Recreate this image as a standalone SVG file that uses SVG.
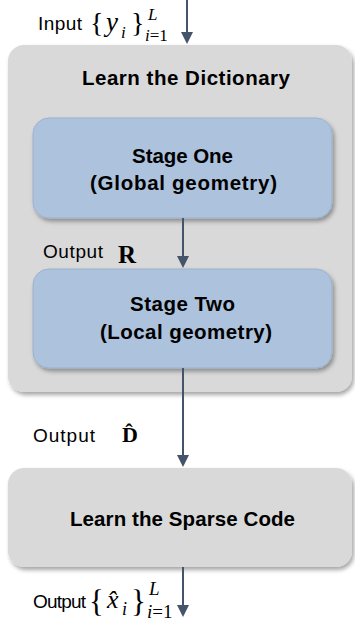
<svg xmlns="http://www.w3.org/2000/svg" width="355" height="623" viewBox="0 0 355 623">
<defs>
<filter id="sh" x="-10%" y="-10%" width="125%" height="130%">
<feDropShadow dx="2" dy="3" stdDeviation="2" flood-color="#000" flood-opacity="0.35"/>
</filter>
<marker id="ah" markerUnits="userSpaceOnUse" markerWidth="12" markerHeight="12" refX="0" refY="6" orient="auto">
<path d="M0,0 L12,6 L0,12 z" fill="#44546a"/>
</marker>
<style>
.gray{fill:#d9d9d9;filter:url(#sh)}
.blue{fill:#adc2dc;stroke:#9cb1cc;stroke-width:1;filter:url(#sh)}
.bold{font-family:"Liberation Sans",Arial,sans-serif;font-weight:bold;font-size:20.5px;fill:#000;text-anchor:middle}
.lab{font-family:"Liberation Sans",Arial,sans-serif;font-size:19px;fill:#000}
.m{font-family:"Liberation Serif","Times New Roman",serif;fill:#000}
.it{font-style:italic}
.conn line{stroke:#44546a;stroke-width:2;marker-end:url(#ah)}
</style>
</defs>

<g id="dictionary">
<rect class="gray" x="8" y="45" width="344" height="347" rx="16"/>
<text class="bold" x="186" y="85" textLength="208">Learn the Dictionary</text>
</g>

<g id="stage-one">
<rect class="blue" x="33" y="118" width="299" height="100" rx="16"/>
<text class="bold" x="182.5" y="163" textLength="101">Stage One</text>
<text class="bold" x="183.5" y="190" textLength="187">(Global geometry)</text>
</g>

<g id="stage-two">
<rect class="blue" x="33" y="269" width="299" height="99" rx="16"/>
<text class="bold" x="182.5" y="311" textLength="105">Stage Two</text>
<text class="bold" x="186" y="339" textLength="172">(Local geometry)</text>
</g>

<g id="sparse-code">
<rect class="gray" x="8" y="468" width="344" height="99" rx="16"/>
<text class="bold" x="182.5" y="526" textLength="225">Learn the Sparse Code</text>
</g>

<g class="conn" id="connectors">
<line x1="187" y1="0" x2="187" y2="32"/>
<line x1="183" y1="218" x2="183" y2="256"/>
<line x1="183" y1="368" x2="183" y2="455"/>
<line x1="183" y1="567" x2="183" y2="605"/>
</g>

<g id="label-input">
<text class="lab" x="38" y="30" textLength="44">Input</text>
<text class="m" x="90" y="32" font-size="28">{</text>
<text class="m it" x="106" y="31" font-size="27">y</text>
<text class="m it" x="121" y="38" font-size="17">i</text>
<text class="m" x="131" y="32" font-size="28">}</text>
<text class="m it" x="148" y="20" font-size="17">L</text>
<text class="m" x="145" y="41" font-size="17"><tspan class="it">i</tspan>=1</text>
</g>

<g id="label-r">
<text class="lab" x="43" y="258" textLength="60">Output</text>
<text class="m" x="118" y="263" font-size="25" font-weight="bold">R</text>
</g>

<g id="label-d">
<text class="lab" x="33" y="442" textLength="62">Output</text>
<text class="m" x="122" y="442" font-size="22" font-weight="bold">D&#x302;</text>
</g>

<g id="label-x">
<text class="lab" x="33" y="608" textLength="53" font-size="18">Output</text>
<text class="m" x="89" y="612" font-size="31">{</text>
<text class="m it" x="107" y="608" font-size="26">x&#x302;</text>
<text class="m it" x="122" y="615" font-size="18">i</text>
<text class="m" x="131" y="612" font-size="31">}</text>
<text class="m it" x="149" y="595" font-size="19">L</text>
<text class="m" x="147" y="618" font-size="19"><tspan class="it">i</tspan>=1</text>
</g>
</svg>
